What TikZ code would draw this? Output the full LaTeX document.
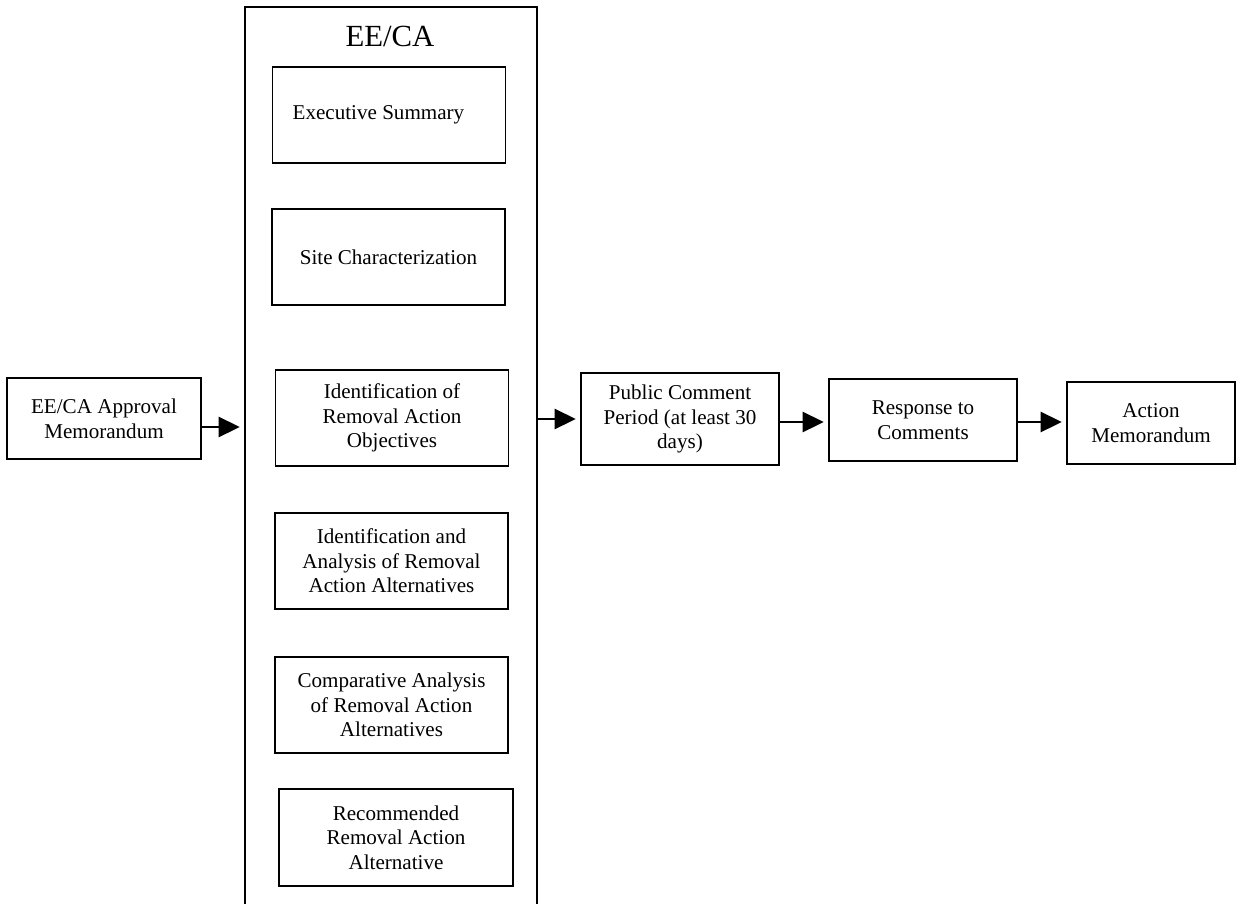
\documentclass[tikz,border=0pt]{standalone}
\usepackage{fontspec}
\setmainfont{Liberation Serif}
\usetikzlibrary{arrows.meta}

\newcommand{\InW}{4.66}
\newcommand{\InH}{1.92}

\begin{document}
\begin{tikzpicture}[
  x = 0.02cm, y = -0.02cm,
  box/.style={draw,line width=1pt,black,align=center,font=\fontsize{12}{14}\selectfont,inner sep=2pt},
  inbox/.style={box,minimum width=\InW cm,minimum height=\InH cm},
  flow/.style={line width=1pt,shorten >=2.5pt,-{Triangle[length=12pt,width=11.5pt]}},
  title/.style={font=\fontsize{17.5}{20}\selectfont}
  ]

	\useasboundingbox (0,0) rectangle (1236,903);

	%draw the EE/CA frame (its foot runs off the page)
	\node[draw,line width=1pt,minimum width=5.84cm,minimum height=18.52cm] (eeca) at (391,470) {};
	\node[title] (eecatitle) at (390,36) {EE/CA};

	%draw the parts of the EE/CA
	\node[inbox] (execsum) at (389,115) {Executive Summary\hspace{1em}};
	\node[inbox] (sitechar) at (388.5,257) {Site Characterization};
	\node[inbox] (idobj) at (392,418) {Identification of\\Removal Action\\Objectives};
	\node[inbox] (idanal) at (391.5,561) {Identification and\\Analysis of Removal\\Action Alternatives};
	\node[inbox] (companal) at (391.5,705) {Comparative Analysis\\of Removal Action\\Alternatives};
	\node[inbox,minimum width=4.68cm,minimum height=1.94cm] (recomm) at (396,837.5) {Recommended\\Removal Action\\Alternative};

	%draw the boxes outside
	\node[box,minimum width=3.88cm,minimum height=1.62cm] (approval) at (104,418.5) {EE/CA Approval\\Memorandum};
	\node[box,minimum width=3.96cm,minimum height=1.84cm] (public) at (680,419) {Public Comment\\Period (at least 30\\days)};
	\node[box,minimum width=3.76cm,minimum height=1.64cm] (response) at (923,420) {Response to\\Comments};
	\node[box,minimum width=3.36cm,minimum height=1.64cm] (action) at (1151,423) {Action\\Memorandum};

	%draw the arrows
	\draw[flow] ([yshift=-0.17cm]approval.east) -- ([yshift=-0.17cm]approval.east -| eeca.west);
	\draw[flow] (public.west -| eeca.east) -- (public.west);
	\draw[flow] ([yshift=-0.06cm]public.east) -- ([yshift=-0.06cm]public.east -| response.west);
	\draw[flow] ([yshift=-0.04cm]response.east) -- ([yshift=-0.04cm]response.east -| action.west);

\end{tikzpicture}
\end{document}
